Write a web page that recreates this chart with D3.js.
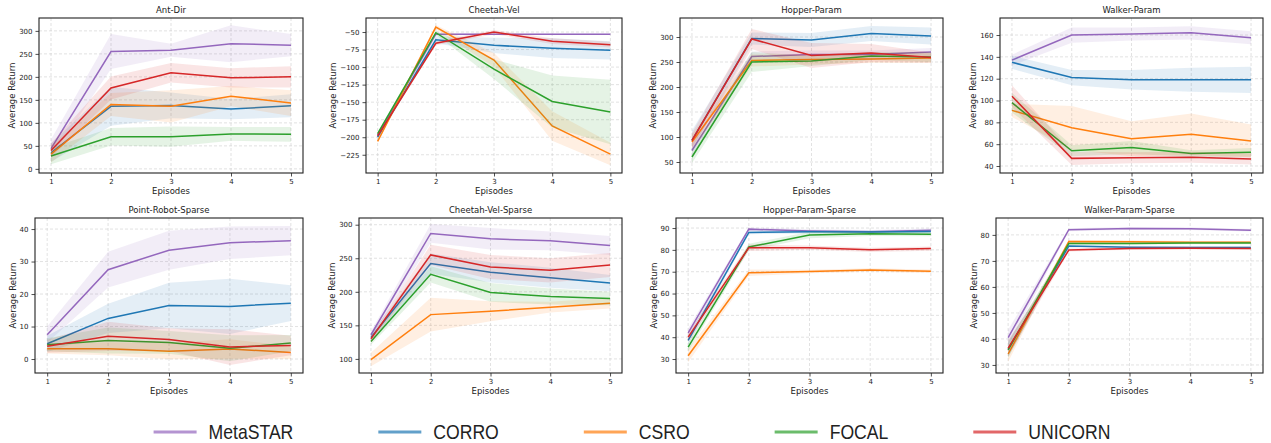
<!DOCTYPE html>
<html>
<head>
<meta charset="utf-8">
<script src="https://cdn.jsdelivr.net/npm/d3@7"></script>
<style>
  body { margin: 0; background: #fff; }
  text { font-family: "DejaVu Sans", sans-serif; fill: #222; }
</style>
</head>
<body>
<svg id="chart"></svg>
<script>
// ---- data ----
var episodes = [1, 2, 3, 4, 5];
var methods = ["MetaSTAR", "CORRO", "CSRO", "FOCAL", "UNICORN"];
var colors = ["#9467bd", "#1f77b4", "#ff7f0e", "#2ca02c", "#d62728"];
var envNames = ["Ant-Dir", "Cheetah-Vel", "Hopper-Param", "Walker-Param",
                "Point-Robot-Sparse", "Cheetah-Vel-Sparse", "Hopper-Param-Sparse", "Walker-Param-Sparse"];

// mean per method (rows follow methods order)
var antDirMean = [[44, 255, 258, 272, 269], [35, 136, 138, 130, 137], [32, 140, 136, 158, 143], [28, 70, 70, 76, 75], [40, 176, 209, 198, 200]];
var antDirStd  = [[20, 38, 14, 40, 24], [20, 42, 28, 22, 25], [18, 25, 35, 22, 28], [18, 19, 22, 15, 16], [15, 25, 21, 21, 23]];

var cheetahVelMean = [[-197, -53, -53, -53, -53], [-200, -61, -69, -73, -76], [-206, -43, -90, -184, -224], [-195, -51, -103, -149, -164], [-198, -66, -50, -63, -68]];
var cheetahVelStd  = [[2, 2, 1, 1, 1], [3, 5, 11, 14, 13], [2, 3, 10, 21, 16], [2, 3, 14, 37, 46], [2, 3, 3, 4, 4]];

var hopperMean = [[73, 261, 265, 265, 270], [93, 297, 294, 307, 302], [90, 253, 255, 256, 258], [60, 250, 252, 262, 260], [93, 296, 263, 268, 259]];
var hopperStd  = [[15, 10, 8, 8, 8], [20, 12, 14, 15, 17], [15, 12, 10, 8, 10], [12, 20, 10, 8, 10], [15, 20, 25, 18, 10]];

var walkerMean = [[137, 160, 161, 162, 157.5], [135, 121, 119, 119, 119], [91, 75, 65, 69, 63], [98, 54, 57, 51.5, 52.5], [104, 47, 47.5, 48, 46.5]];
var walkerStd  = [[5, 7, 6, 6, 6], [6, 7, 9, 11, 12], [6, 20, 16, 19, 15], [9, 5, 6, 3, 4], [10, 6, 5, 5, 5]];

var pointRobotMean = [[7.5, 27.5, 33.5, 35.8, 36.4], [4.7, 12.5, 16.5, 16.2, 17.2], [3.2, 3.2, 2.4, 3.1, 2.0], [4.4, 5.7, 5.1, 3.3, 4.9], [3.9, 7.0, 6.0, 3.7, 4.2]];
var pointRobotStd  = [[2.5, 5.5, 6, 5, 4.5], [2.5, 4.5, 7, 8.5, 5.5], [1.5, 2, 2.5, 3, 2], [2, 4, 3.5, 4, 2.5], [2, 4.5, 3.5, 5.5, 3]];

var cheetahSparseMean = [[136, 287, 279, 276, 269], [132, 242, 229, 221, 213], [99, 166, 171, 177, 183], [126, 226, 199, 193, 190], [130, 255, 237, 232, 240]];
var cheetahSparseStd  = [[5, 14, 16, 14, 14], [5, 15, 15, 15, 12], [10, 25, 15, 8, 8], [5, 12, 14, 12, 10], [5, 15, 18, 18, 18]];

var hopperSparseMean = [[42, 89.5, 88.6, 88.3, 89], [38.5, 88, 88.3, 88.2, 88.4], [31.5, 69.5, 70.1, 70.8, 70.2], [35.5, 81.3, 86.8, 87.4, 87.2], [40, 81, 81, 80, 80.6]];
var hopperSparseStd  = [[2, 0.8, 0.8, 0.8, 0.8], [2, 0.8, 0.8, 0.8, 0.8], [3, 1.5, 0.8, 0.8, 0.8], [2, 1.5, 1.5, 1, 1], [2, 1.5, 1, 1, 1]];

var walkerSparseMean = [[40.5, 82, 82.5, 82.4, 81.8], [36, 75.7, 75.3, 75.2, 75.2], [34.2, 77.5, 77.4, 77.2, 77.2], [35.8, 76.7, 76.7, 76.9, 76.9], [36.5, 74.2, 74.8, 74.9, 74.8]];
var walkerSparseStd  = [[3, 0.6, 0.5, 0.5, 0.5], [3, 0.5, 0.5, 0.5, 0.5], [3, 0.5, 0.5, 0.5, 0.5], [3, 0.5, 0.5, 0.5, 0.5], [3, 0.6, 0.5, 0.5, 0.5]];

// y tick labels per panel
var antDirTicks = [0, 50, 100, 150, 200, 250, 300];
var cheetahVelTicks = [-225, -200, -175, -150, -125, -100, -75, -50];
var hopperTicks = [50, 100, 150, 200, 250, 300];
var walkerTicks = [40, 60, 80, 100, 120, 140, 160];
var pointRobotTicks = [0, 10, 20, 30, 40];
var cheetahSparseTicks = [100, 150, 200, 250, 300];
var hopperSparseTicks = [30, 40, 50, 60, 70, 80, 90];
var walkerSparseTicks = [30, 40, 50, 60, 70, 80];

var allMeans = [antDirMean, cheetahVelMean, hopperMean, walkerMean, pointRobotMean, cheetahSparseMean, hopperSparseMean, walkerSparseMean];
var allStds = [antDirStd, cheetahVelStd, hopperStd, walkerStd, pointRobotStd, cheetahSparseStd, hopperSparseStd, walkerSparseStd];
var allTicks = [antDirTicks, cheetahVelTicks, hopperTicks, walkerTicks, pointRobotTicks, cheetahSparseTicks, hopperSparseTicks, walkerSparseTicks];

// ---- layout ----
var svgWidth = 1271, svgHeight = 443;
var svg = d3.select("#chart").attr("width", svgWidth).attr("height", svgHeight);

// axes boxes [left, right, top, bottom] and y limits
var boxes = [
  [39, 303, 18, 173], [366, 622, 18, 173], [680, 943, 18, 173], [1000, 1263, 18, 173],
  [35, 303, 218, 373], [359, 622, 218, 373], [676, 943, 218, 373], [996, 1263, 218, 373]
];
var yLimits = [[-9, 328], [-251, -30], [28, 338], [33.6, 175.6], [-4.3, 43.4], [79, 310], [23.6, 94.6], [26.9, 86.5]];

for (var p = 0; p < envNames.length; p++) {
  drawPanel(p);
}
drawLegend();

function drawPanel(p) {
  var b = boxes[p];
  var w = b[1] - b[0], h = b[3] - b[2];
  var g = svg.append("g").attr("transform", "translate(" + b[0] + "," + b[2] + ")");

  var x = d3.scaleLinear().domain([0.8, 5.2]).range([0, w]);
  var y = d3.scaleLinear().domain(yLimits[p]).range([h, 0]);

  // grid
  g.append("g").selectAll("line").data(episodes).enter().append("line")
    .attr("x1", function(d) { return x(d); }).attr("x2", function(d) { return x(d); })
    .attr("y1", 0).attr("y2", h)
    .attr("stroke", "#cfcfcf").attr("stroke-width", 0.6).attr("stroke-dasharray", "3,2");
  g.append("g").selectAll("line").data(allTicks[p]).enter().append("line")
    .attr("y1", function(d) { return y(d); }).attr("y2", function(d) { return y(d); })
    .attr("x1", 0).attr("x2", w)
    .attr("stroke", "#cfcfcf").attr("stroke-width", 0.6).attr("stroke-dasharray", "3,2");

  var clipId = "clip" + p;
  g.append("clipPath").attr("id", clipId).append("rect").attr("width", w).attr("height", h);
  var plot = g.append("g").attr("clip-path", "url(#" + clipId + ")");

  var area = d3.area()
    .x(function(d) { return x(d.ep); })
    .y0(function(d) { return y(d.m - d.s); })
    .y1(function(d) { return y(d.m + d.s); });
  var line = d3.line()
    .x(function(d) { return x(d.ep); })
    .y(function(d) { return y(d.m); });

  for (var k = 0; k < methods.length; k++) {
    var pts = episodes.map(function(ep, i) {
      return { ep: ep, m: allMeans[p][k][i], s: allStds[p][k][i] };
    });
    plot.append("path").datum(pts).attr("d", area)
      .attr("fill", colors[k]).attr("fill-opacity", 0.12).attr("stroke", "none");
    plot.append("path").datum(pts).attr("d", line)
      .attr("fill", "none").attr("stroke", colors[k]).attr("stroke-width", 1.5);
  }

  // axes
  var xAxis = g.append("g").attr("transform", "translate(0," + h + ")")
    .call(d3.axisBottom(x).tickValues(episodes).tickFormat(d3.format("d")).tickSize(3.5).tickPadding(3).tickSizeOuter(0));
  var yAxis = g.append("g")
    .call(d3.axisLeft(y).tickValues(allTicks[p]).tickFormat(d3.format("d")).tickSize(3.5).tickPadding(3).tickSizeOuter(0));
  [xAxis, yAxis].forEach(function(a) {
    a.select(".domain").remove();
    a.selectAll("text").style("font-size", "7px").attr("fill", "#222");
    a.selectAll("line").attr("stroke", "#222").attr("stroke-width", 0.8);
  });

  g.append("rect").attr("width", w).attr("height", h)
    .attr("fill", "none").attr("stroke", "#222").attr("stroke-width", 1.1);

  g.append("text").text(envNames[p])
    .attr("x", w / 2).attr("y", -5)
    .attr("text-anchor", "middle").style("font-size", "8.5px");

  g.append("text").text("Episodes")
    .attr("x", w / 2).attr("y", h + 21)
    .attr("text-anchor", "middle").style("font-size", "8.5px");

  var bb = yAxis.node().getBBox();
  g.append("text").text("Average Return")
    .attr("transform", "translate(" + (bb.x - 4) + "," + (h / 2) + ") rotate(-90)")
    .attr("text-anchor", "middle").style("font-size", "8.5px");
}

function drawLegend() {
  var lg = svg.append("g");
  var lineLen = 43, textGap = 12, colGap = 85, cy = 432, squeeze = 0.88;
  var xPos = 0;
  for (var k = 0; k < methods.length; k++) {
    var it = lg.append("g").attr("transform", "translate(" + xPos + ",0)");
    it.append("line").attr("x1", 0).attr("x2", lineLen).attr("y1", cy).attr("y2", cy)
      .attr("stroke", colors[k]).attr("stroke-opacity", 0.7).attr("stroke-width", 3);
    var t = it.append("g")
      .attr("transform", "translate(" + (lineLen + textGap) + "," + cy + ") scale(" + squeeze + ",1)")
      .append("text").text(methods[k])
      .attr("dy", "0.35em")
      .style("font-family", "'Liberation Sans', Arial, sans-serif")
      .style("font-size", "20px").attr("fill", "#111");
    xPos += lineLen + textGap + t.node().getComputedTextLength() * squeeze + colGap;
  }
  var total = xPos - colGap;
  lg.attr("transform", "translate(" + (632 - total / 2) + ",0)");
}
</script>
</body>
</html>
